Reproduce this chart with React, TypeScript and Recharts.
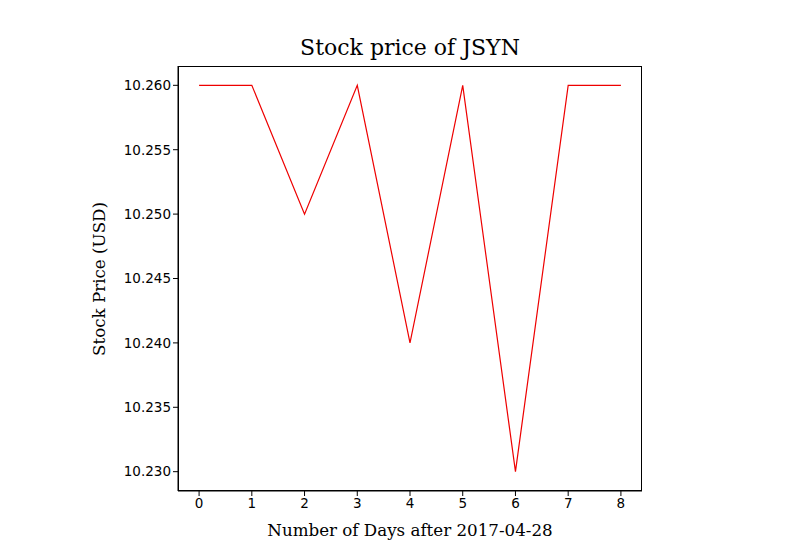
import { LineChart, Line, XAxis, YAxis } from 'recharts'

const days = [0, 1, 2, 3, 4, 5, 6, 7, 8]
const prices = [10.26, 10.26, 10.25, 10.26, 10.24, 10.26, 10.23, 10.26, 10.26]
const xTicks = [0, 1, 2, 3, 4, 5, 6, 7, 8]
const yTicks = [10.23, 10.235, 10.24, 10.245, 10.25, 10.255, 10.26]

const data = days.map((d, i) => ({ day: d, price: prices[i] }))

const tickStyle = { fontSize: 13.5, fill: '#000', fontFamily: 'DejaVu Sans' }
const serif = 'DejaVu Serif'

export default function App() {
  return (
    <div style={{ margin: -8, position: 'relative', width: 800, height: 550, background: '#fff' }}>
      <div style={{ position: 'absolute', top: 35, left: 178, width: 464, textAlign: 'center', fontFamily: serif, fontSize: 22 }}>
        Stock price of JSYN
      </div>
      <div style={{ position: 'absolute', top: 520, left: 178, width: 464, textAlign: 'center', fontFamily: serif, fontSize: 16.7 }}>
        Number of Days after 2017-04-28
      </div>
      <div style={{ position: 'absolute', left: 99, top: 279, transform: 'translate(-50%, -50%) rotate(-90deg)', whiteSpace: 'nowrap', fontFamily: serif, fontSize: 16.7 }}>
        Stock Price (USD)
      </div>
      <div style={{ position: 'absolute', left: 178, top: 66, width: 464, height: 425, boxSizing: 'border-box', border: '1px solid #000', pointerEvents: 'none' }} />
      <LineChart width={800} height={550} data={data} margin={{ top: 66, right: 158, bottom: 29, left: 118 }}>
        <XAxis dataKey="day" type="number" domain={[-0.4, 8.4]} ticks={xTicks} tick={tickStyle}
          axisLine={{ stroke: '#000' }} tickLine={{ stroke: '#000' }} tickSize={5} height={30} />
        <YAxis type="number" domain={[10.2285, 10.2615]} ticks={yTicks} tick={tickStyle}
          tickFormatter={(v: number) => v.toFixed(3)} axisLine={{ stroke: '#000' }} tickLine={{ stroke: '#000' }}
          tickSize={5} width={60} />
        <Line dataKey="price" stroke="#ee0000" strokeWidth={1.2} dot={false} isAnimationActive={false} />
      </LineChart>
    </div>
  )
}
